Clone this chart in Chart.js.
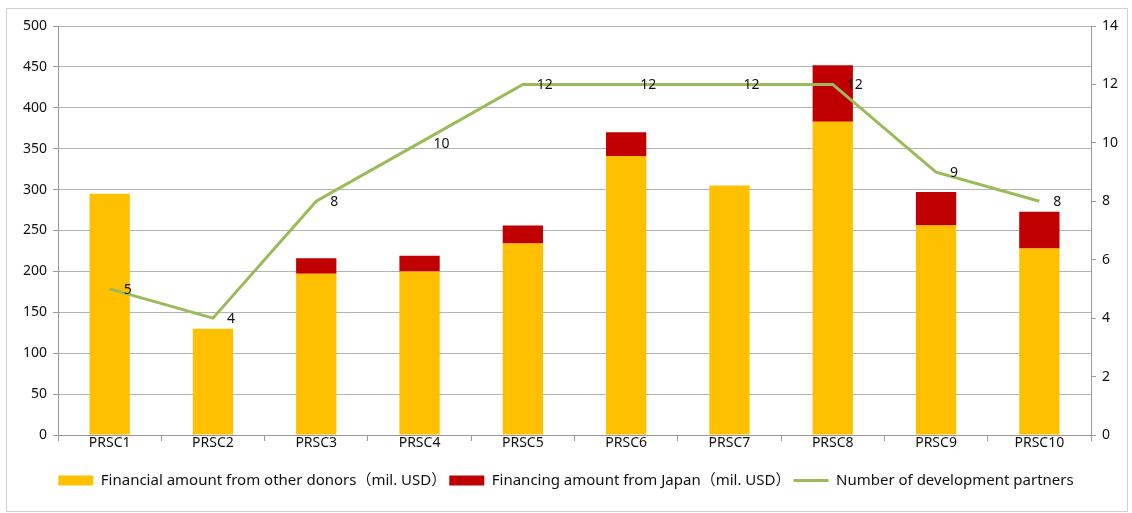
<!DOCTYPE html>
<html>
<head>
<meta charset="utf-8">
<script src="https://cdn.jsdelivr.net/npm/chart.js@4.4.1/dist/chart.umd.min.js"></script>
<style>
  body { margin: 0; background: #fff; }
  #wrap { width: 1132px; height: 513px; position: relative; }
</style>
</head>
<body>
<div id="wrap"><canvas id="chart"></canvas></div>
<script>
const labels = ['PRSC1', 'PRSC2', 'PRSC3', 'PRSC4', 'PRSC5', 'PRSC6', 'PRSC7', 'PRSC8', 'PRSC9', 'PRSC10'];
const otherDonors = [295, 130, 197, 200, 234, 341, 305, 383, 256, 228];
const japan = [0, 0, 19, 19, 22, 29, 0, 69, 41, 45];
const partners = [5, 4, 8, 10, 12, 12, 12, 12, 9, 8];

const FONT = "'Noto Sans', 'Noto Sans CJK JP', sans-serif";
const gridColor = '#b4b4b4';
const axisColor = '#9a9a9a';

// labels next to the line points
const lineLabels = {
  id: 'lineLabels',
  afterDatasetsDraw(chart) {
    const ctx = chart.ctx;
    const meta = chart.getDatasetMeta(2);
    ctx.save();
    ctx.fillStyle = '#111';
    ctx.font = '14px ' + FONT;
    ctx.textAlign = 'left';
    ctx.textBaseline = 'middle';
    meta.data.forEach((pt, i) => {
      ctx.fillText(String(partners[i]), pt.x + 14, pt.y + 1);
    });
    ctx.restore();
  }
};

const frame = {
  id: 'frame',
  afterDraw(chart) {
    const ctx = chart.ctx;
    ctx.save();
    ctx.strokeStyle = '#d0d0d0';
    ctx.lineWidth = 1;
    ctx.strokeRect(6.5, 8.5, 1121, 503);
    ctx.restore();
  }
};

new Chart(document.getElementById('chart'), {
  type: 'bar',
  data: {
    labels: labels,
    datasets: [
      {
        label: 'Financial amount from other donors（mil. USD）',
        data: otherDonors,
        backgroundColor: '#FFC000',
        yAxisID: 'y',
        stack: 's',
        order: 2,
        barPercentage: 0.78,
        categoryPercentage: 0.5,
        pointStyle: 'rect'
      },
      {
        label: 'Financing amount from Japan（mil. USD）',
        data: japan,
        backgroundColor: '#C00000',
        yAxisID: 'y',
        stack: 's',
        order: 2,
        barPercentage: 0.78,
        categoryPercentage: 0.5,
        pointStyle: 'rect'
      },
      {
        type: 'line',
        label: 'Number of development partners',
        data: partners,
        borderColor: '#9BBB59',
        backgroundColor: '#9BBB59',
        borderWidth: 3,
        pointRadius: 0,
        tension: 0,
        yAxisID: 'y1',
        order: 1,
        pointStyle: 'line'
      }
    ]
  },
  options: {
    responsive: true,
    maintainAspectRatio: false,
    animation: false,
    layout: { padding: { top: 26, left: 0, right: 0, bottom: 15 } },
    plugins: {
      legend: {
        position: 'bottom',
        labels: {
          usePointStyle: true,
          pointStyleWidth: 35,
          boxHeight: 10,
          padding: 3,
          color: '#111',
          font: { family: FONT, size: 15 },
          sort: (a, b) => a.datasetIndex - b.datasetIndex
        }
      },
      tooltip: { enabled: false }
    },
    scales: {
      x: {
        stacked: true,
        grid: { display: true, drawOnChartArea: false, drawTicks: true, tickLength: 6, color: axisColor, offset: true },
        border: { color: axisColor },
        ticks: { color: '#111', font: { family: FONT, size: 14 }, padding: -6 },
        afterFit(scale) { scale.height = 35; }
      },
      y: {
        stacked: true,
        position: 'left',
        min: 0,
        max: 500,
        ticks: { stepSize: 50, color: '#111', font: { family: FONT, size: 14 }, padding: 6 },
        grid: { color: gridColor, tickLength: 5, tickColor: axisColor },
        border: { color: axisColor },
        afterFit(scale) { scale.width = 58; }
      },
      y1: {
        position: 'right',
        min: 0,
        max: 14,
        ticks: { stepSize: 2, color: '#111', font: { family: FONT, size: 14 }, padding: 6 },
        grid: { drawOnChartArea: false, tickLength: 5, color: axisColor },
        border: { color: axisColor },
        afterFit(scale) { scale.width = 41; }
      }
    }
  },
  plugins: [lineLabels, frame]
});
</script>
</body>
</html>
